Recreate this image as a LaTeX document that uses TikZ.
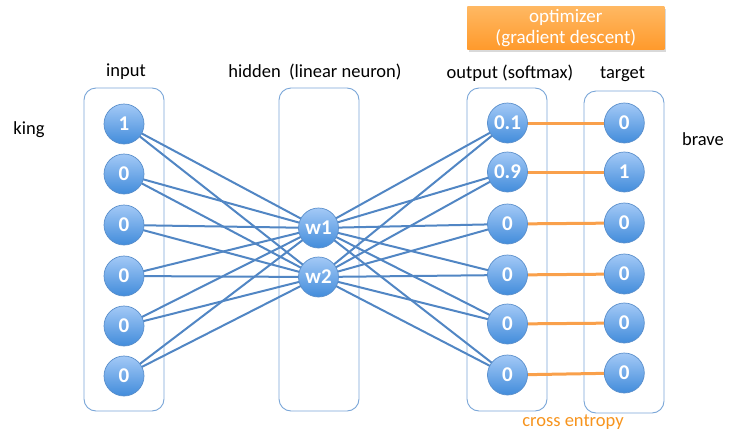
\documentclass[tikz,border=0pt]{standalone}
\usepackage{fontspec}
\setmainfont{Carlito}
\pgfdeclarelayer{bg}
\pgfsetlayers{bg,main}
\begin{document}
\begin{tikzpicture}[x=1pt,y=-1pt,
  neuron/.style={circle,minimum size=40pt,inner sep=0pt,top color=nTop,bottom color=nBot,draw=nBorder,line width=0.7pt,text=white,font=\fontsize{21}{22}\selectfont\bfseries},
  layerbox/.style={draw=boxBlue,line width=0.9pt,rounded corners=12pt},
  lbl/.style={font=\fontsize{18.5}{22}\selectfont,text=black},
  wire/.style={draw=wireBlue,line width=2pt},
  xent/.style={draw=xOrange,line width=3pt}]
\definecolor{nTop}{HTML}{A3C9F6}
\definecolor{nBot}{HTML}{428CDB}
\definecolor{nBorder}{HTML}{5A8FCC}
\definecolor{boxBlue}{HTML}{7AA6D8}
\definecolor{wireBlue}{HTML}{5186C4}
\definecolor{xOrange}{HTML}{F9A04B}
\definecolor{oTop}{HTML}{FFB862}
\definecolor{oBot}{HTML}{FF9A2C}
\definecolor{oText}{HTML}{F7941D}
\useasboundingbox (0,0) rectangle (735,434);
% labels
\node[lbl] (linput) at (126,72) {input};
\node[lbl] (lhidden) at (315,72) {hidden\ \ (linear neuron)};
\node[lbl] (loutput) at (510,73) {output (softmax)};
\node[lbl] (ltarget) at (622.5,74) {target};
\node[lbl] (lking) at (29,130) {king};
\node[lbl] (lbrave) at (703,139) {brave};
\node[lbl,text=oText] (lxent) at (573,422) {cross entropy};
% optimizer
\node[top color=oTop,bottom color=oBot,minimum width=197pt,minimum height=43pt,inner sep=0pt,text=white,align=center,font=\fontsize{19}{21.5}\selectfont,
  preaction={fill=black!15,transform canvas={xshift=1.5pt,yshift=-2pt}}] (opt) at (565.8,28) {optimizer\\(gradient descent)};
% input neurons
\node[neuron] (i1) at (124,124) {1};
\node[neuron] (i2) at (124,174) {0};
\node[neuron] (i3) at (124,225) {0};
\node[neuron] (i4) at (124,276) {0};
\node[neuron] (i5) at (124,326) {0};
\node[neuron] (i6) at (124,376) {0};
% hidden
\node[neuron] (w1) at (318.5,228) {w1};
\node[neuron] (w2) at (318.5,277) {w2};
% output
\node[neuron] (o1) at (507.5,123) {0.1};
\node[neuron] (o2) at (507.5,172) {0.9};
\node[neuron] (o3) at (507.5,224) {0};
\node[neuron] (o4) at (507.5,275) {0};
\node[neuron] (o5) at (507.5,324) {0};
\node[neuron] (o6) at (507.5,375) {0};
% target
\node[neuron] (t1) at (624.3,123) {0};
\node[neuron] (t2) at (624.3,172) {1};
\node[neuron] (t3) at (624.3,223) {0};
\node[neuron] (t4) at (624.3,274) {0};
\node[neuron] (t5) at (624.3,323) {0};
\node[neuron] (t6) at (624.3,373) {0};
\begin{pgfonlayer}{bg}
\fill[white] (0,0) rectangle (735,434);
% layer boxes
\draw[layerbox] (84,88) rectangle (164,411);
\draw[layerbox] (279,88) rectangle (359,411);
\draw[layerbox] (467,88) rectangle (547,411);
\draw[layerbox] (584,91) rectangle (664,413);
% wires
\foreach \k in {1,...,6}{
  \foreach \h in {w1,w2}{
    \draw[wire] (i\k.center) -- (\h.center);
    \draw[wire] (\h.center) -- (o\k.center);
  }
  \draw[xent] (o\k.center) -- (t\k.center);
}
\end{pgfonlayer}
\end{tikzpicture}
\end{document}
